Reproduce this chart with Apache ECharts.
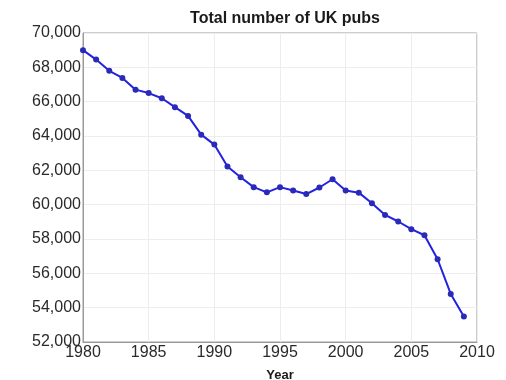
<!DOCTYPE html>
<html>
<head>
<meta charset="utf-8">
<script src="https://cdn.jsdelivr.net/npm/echarts@6/dist/echarts.min.js"></script>
<style>
  html, body { margin: 0; padding: 0; background: #fff; }
  #chart { width: 506px; height: 380px; }
</style>
</head>
<body>
<div id="chart"></div>
<script>
const years = [1980, 1981, 1982, 1983, 1984, 1985, 1986, 1987, 1988, 1989,
  1990, 1991, 1992, 1993, 1994, 1995, 1996, 1997, 1998, 1999,
  2000, 2001, 2002, 2003, 2004, 2005, 2006, 2007, 2008, 2009];
const pubs = [69000, 68450, 67800, 67380, 66700, 66500, 66200, 65680, 65170, 64080,
  63500, 62220, 61600, 61020, 60720, 61020, 60820, 60620, 61000, 61480,
  60820, 60700, 60080, 59400, 59020, 58570, 58220, 56820, 54800, 53480];

const font = "'Liberation Sans', Arial, sans-serif";
const chart = echarts.init(document.getElementById("chart"));

const option = {
  animation: false,
  title: {
    text: "Total number of UK pubs",
    left: 280,
    top: 6,
    textAlign: "center",
    textStyle: { fontFamily: font, fontSize: 16, fontWeight: "bold", color: "#1a1a1a" },
  },
  grid: {
    left: 83,
    right: 29,
    top: 33,
    bottom: 38,
    outerBoundsMode: "none",
    show: true,
    borderColor: "#9a9a9a",
    borderWidth: 1,
  },
  xAxis: {
    type: "value",
    min: 1980,
    max: 2010,
    interval: 5,
    name: "Year",
    nameLocation: "middle",
    nameGap: 27,
    nameTextStyle: { fontFamily: font, fontSize: 13, fontWeight: "bold", color: "#1a1a1a" },
    axisLine: { show: true, lineStyle: { color: "#9a9a9a" } },
    axisTick: { show: false },
    splitLine: { show: true, lineStyle: { color: "#ededed" } },
    axisLabel: {
      fontFamily: font,
      fontSize: 16,
      color: "#2a2a2a",
      margin: 3,
      formatter: (v) => String(v),
    },
  },
  yAxis: {
    type: "value",
    min: 52000,
    max: 70000,
    interval: 2000,
    axisLine: { show: true, lineStyle: { color: "#9a9a9a" } },
    axisTick: { show: false },
    splitLine: { show: true, lineStyle: { color: "#ededed" } },
    axisLabel: {
      fontFamily: font,
      fontSize: 16,
      color: "#2a2a2a",
      margin: 2,
      formatter: (v) => v.toLocaleString("en-US"),
    },
  },
  series: [
    {
      type: "line",
      data: years.map((y, i) => [y, pubs[i]]),
      symbol: "circle",
      symbolSize: 6,
      lineStyle: { color: "#2222e0", width: 2 },
      itemStyle: { color: "#2a2ab8" },
    },
  ],
};

option && chart.setOption(option);
</script>
</body>
</html>
